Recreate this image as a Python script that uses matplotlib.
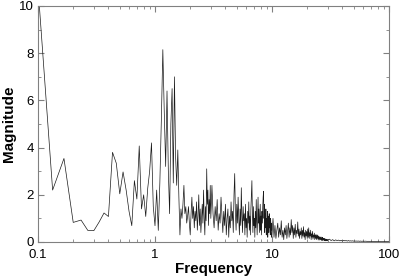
import numpy as np
import matplotlib
matplotlib.use("Agg")
import matplotlib.pyplot as plt
from matplotlib.ticker import LogLocator, FixedLocator, MultipleLocator

plt.rcParams['font.family'] = ['Liberation Sans', 'DejaVu Sans']

# low band: frequency grid k/30, k = 3..90
k_low = np.arange(3, 91)
mag_low = [10.8, 2.2, 3.54, 0.83, 0.93, 0.49, 0.48, 0.85, 1.23, 1.08,
           3.8, 3.34, 2.04, 2.97, 2.2, 1.3, 0.69, 2.6, 1.82, 4.07,
           1.4, 2.0, 1.08, 2.28, 3.0, 4.2, 1.5, 0.69, 2.2, 0.49,
           2.5, 5.2, 8.15, 5.5, 3.2, 6.4, 3.0, 1.2, 5.0, 6.5,
           2.5, 7.0, 3.6, 2.4, 3.9, 1.9, 0.3, 1.4, 1.0, 1.6,
           2.4, 1.2, 1.5, 0.8, 1.1, 1.5, 0.8,
           0.3, 1.2, 1.9, 1.0, 1.5, 0.6, 1.3, 0.9, 1.7, 0.5,
           1.1, 2.0, 0.7, 1.4, 0.4, 1.0, 1.6, 0.8, 2.2, 1.0,
           0.3, 1.5, 0.9, 3.1, 1.6, 2.2, 0.7, 1.8, 1.2, 2.4, 1.0]

# mid band: 3.07 .. 9.93, step 1/15
k_mid = np.arange(46, 150)
mag_mid = [2.4, 1.2, 0.6, 1.5, 0.9, 1.8, 0.5, 1.2, 0.8, 1.9,
           1.1, 0.4, 1.3, 0.7, 1.6, 0.3, 1.0, 1.4, 0.2, 1.1,
           0.6, 1.7, 0.9, 1.3, 0.4, 2.0, 2.9, 1.2, 0.5, 1.6,
           0.8, 1.9, 1.0, 0.3, 1.4, 0.7, 2.3, 1.1, 0.4, 1.5,
           0.9, 1.2, 0.3, 1.6, 0.6, 1.0, 0.2, 1.3, 0.8, 1.7,
           0.5, 1.1, 0.3, 1.4, 2.0, 2.6, 1.2, 0.4, 1.5, 0.7,
           1.0, 0.2, 1.3, 0.6, 1.8, 0.9, 0.3, 1.2, 1.9, 0.8,
           1.4, 0.4, 1.0, 1.6, 0.5, 1.1, 0.3, 1.3, 0.8, 1.5,
           1.9, 2.15, 1.0, 1.6, 0.4, 1.2, 0.6, 1.4, 0.3, 1.0,
           0.7, 1.3, 0.2, 0.9, 1.1, 0.4, 1.2, 0.6, 0.9, 0.3,
           1.0, 0.5, 0.8, 0.2]

# high band: 10 .. 29.8, step 0.2
k_high = np.arange(50, 150)
mag_high = [0.3, 1.0, 0.2, 0.7, 0.15, 0.5, 0.8, 0.2, 0.6, 0.3,
            0.9, 0.2, 0.5, 0.1, 0.6, 0.3, 0.7, 0.15, 0.5, 0.8,
            0.2, 0.6, 0.3, 0.95, 0.4, 0.7, 0.15, 0.6, 0.3, 0.75,
            0.2, 0.5, 0.35, 0.85, 0.25, 0.55, 0.15, 0.45, 0.3, 0.6,
            0.15, 0.5, 0.25, 0.65, 0.2, 0.4, 0.1, 0.5, 0.25, 0.45,
            0.15, 0.55, 0.2, 0.6, 0.15, 0.4, 0.25, 0.5, 0.1, 0.35,
            0.2, 0.45, 0.12, 0.3, 0.2, 0.38, 0.1, 0.3, 0.15, 0.32,
            0.1, 0.28, 0.15, 0.3, 0.08, 0.25, 0.12, 0.22, 0.08, 0.2,
            0.1, 0.22, 0.07, 0.18, 0.1, 0.2, 0.06, 0.16, 0.09, 0.15,
            0.06, 0.14, 0.08, 0.13, 0.05, 0.12, 0.07, 0.11, 0.05, 0.1]

# tail: 30 .. 100, step 1
f_tail = np.arange(30, 101)
mag_tail = [0.09, 0.12, 0.06, 0.1, 0.05, 0.09, 0.06, 0.08, 0.05, 0.07,
            0.04, 0.07, 0.05, 0.06, 0.04, 0.06, 0.04, 0.05, 0.04, 0.05,
            0.035, 0.045, 0.035, 0.04, 0.035, 0.04, 0.03, 0.04, 0.03, 0.035,
            0.03, 0.035, 0.03, 0.035, 0.03, 0.03, 0.025, 0.03, 0.025, 0.03,
            0.025, 0.03, 0.025, 0.025, 0.02, 0.025, 0.02, 0.025, 0.02, 0.025,
            0.02, 0.02, 0.02, 0.025, 0.02, 0.02, 0.018, 0.02, 0.018, 0.02,
            0.018, 0.018, 0.015, 0.018, 0.015, 0.015, 0.015, 0.015, 0.015, 0.015,
            0.015]

freq = np.concatenate([k_low / 30, k_mid / 15, k_high / 5, f_tail])
mag = np.concatenate([mag_low, mag_mid, mag_high, mag_tail])

fig = plt.figure(figsize=(4.02, 2.77), dpi=100)
ax = fig.add_axes([38 / 402, 35 / 277, 351 / 402, 236 / 277])
ax.plot(freq, mag, color='#1a1a1a', lw=0.5)

ax.set_xscale('log')
ax.set_xlim(0.1, 100)
ax.set_ylim(0, 10)

ax.xaxis.set_major_locator(FixedLocator([0.1, 1, 10, 100]))
ax.xaxis.set_minor_locator(LogLocator(base=10, subs=np.arange(2, 10)))
ax.set_xticklabels(['0.1', '1', '10', '100'])
ax.xaxis.set_minor_formatter(plt.NullFormatter())
ax.yaxis.set_major_locator(MultipleLocator(2))
ax.yaxis.set_minor_locator(MultipleLocator(1))

ax.tick_params(which='both', direction='in', top=True, right=True,
               color='#808080', labelsize=9.5)
ax.tick_params(axis='x', pad=5)
ax.tick_params(axis='y', pad=3)
ax.tick_params(which='major', length=4, width=0.8)
ax.tick_params(which='minor', length=2.5, width=0.6)
for s in ax.spines.values():
    s.set_color('#808080')
    s.set_linewidth(0.8)

ax.set_xlabel('Frequency', fontsize=11, fontweight='bold', labelpad=1)
ax.set_ylabel('Magnitude', fontsize=11, fontweight='bold', labelpad=2)

fig.savefig('out.png', dpi=100)
